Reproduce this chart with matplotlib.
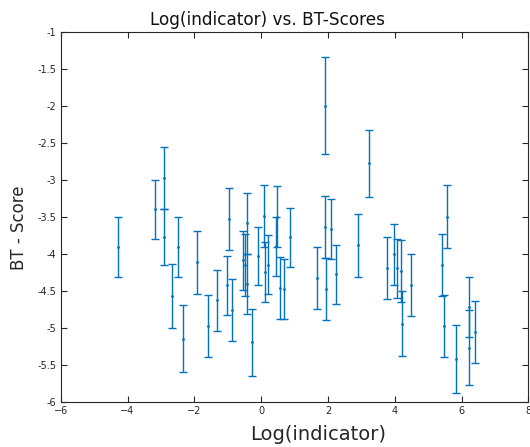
import matplotlib
matplotlib.use("Agg")
import matplotlib.pyplot as plt

# log(indicator) values
log_ind = [-4.29, -3.19, -2.90, -2.90, -2.68, -2.49, -2.34, -1.92, -1.60, -1.31,
           -1.01, -0.96, -0.87, -0.54, -0.48, -0.41, -0.41, -0.28, -0.08, 0.09,
           0.11, 0.22, 0.45, 0.48, 0.57, 0.67, 0.85, 1.68, 1.90, 1.92,
           1.93, 2.10, 2.25, 2.91, 3.22, 3.76, 3.97, 4.08, 4.20, 4.21,
           4.48, 5.40, 5.48, 5.55, 5.82, 6.23, 6.23, 6.41]
# BT scores
bt_score = [-3.90, -3.39, -2.97, -3.77, -4.56, -3.90, -5.14, -4.11, -4.97, -4.62,
            -4.42, -3.52, -4.75, -4.08, -4.14, -3.58, -4.40, -5.19, -4.02, -3.48,
            -4.24, -4.14, -3.89, -3.49, -4.45, -4.47, -3.77, -4.32, -1.99, -3.63,
            -4.47, -3.66, -4.27, -3.88, -2.77, -4.18, -4.00, -4.19, -4.23, -4.94,
            -4.41, -4.14, -4.97, -3.49, -5.41, -4.71, -5.26, -5.05]
# error (half range)
bt_err = [0.40, 0.40, 0.42, 0.38, 0.43, 0.40, 0.45, 0.42, 0.42, 0.41,
          0.40, 0.42, 0.42, 0.40, 0.42, 0.41, 0.41, 0.45, 0.39, 0.42,
          0.40, 0.40, 0.40, 0.41, 0.42, 0.41, 0.40, 0.42, 0.65, 0.42,
          0.42, 0.41, 0.40, 0.42, 0.45, 0.42, 0.41, 0.40, 0.42, 0.44,
          0.42, 0.42, 0.42, 0.42, 0.46, 0.41, 0.51, 0.42]

fig = plt.figure(figsize=(5.3, 4.47), dpi=100)
ax = fig.add_axes([0.1145, 0.100, 0.8825, 0.8277])

ax.errorbar(log_ind, bt_score, yerr=bt_err, fmt='.', color='#0072BD',
            markersize=2, elinewidth=1, capsize=3, capthick=1)

ax.set_xlim(-6, 8)
ax.set_ylim(-6, -1)
ax.set_xticks(range(-6, 9, 2))
ax.set_yticks([-6, -5.5, -5, -4.5, -4, -3.5, -3, -2.5, -2, -1.5, -1])
ax.set_yticklabels(['-6', '-5.5', '-5', '-4.5', '-4', '-3.5', '-3', '-2.5',
                    '-2', '-1.5', '-1'])

ax.tick_params(direction='in', top=True, right=True, labelsize=7,
               length=4, width=0.8, colors='#262626', pad=3)
for s in ax.spines.values():
    s.set_color('#262626')
    s.set_linewidth(0.8)

# title / labels sit a little off-centre in the original
ax.set_title('Log(indicator) vs. BT-Scores', fontsize=12.2, x=0.443, pad=5,
             color='#111111')
ax.set_xlabel('Log(indicator)', fontsize=14, color='#262626')
ax.xaxis.set_label_coords(0.55, -0.086)
ax.xaxis.label.set_va('center')
ax.set_ylabel('BT - Score', fontsize=12, color='#262626')
ax.yaxis.set_label_coords(-0.089, 0.471)
ax.yaxis.label.set_va('center')

fig.savefig('out.png', dpi=100)
